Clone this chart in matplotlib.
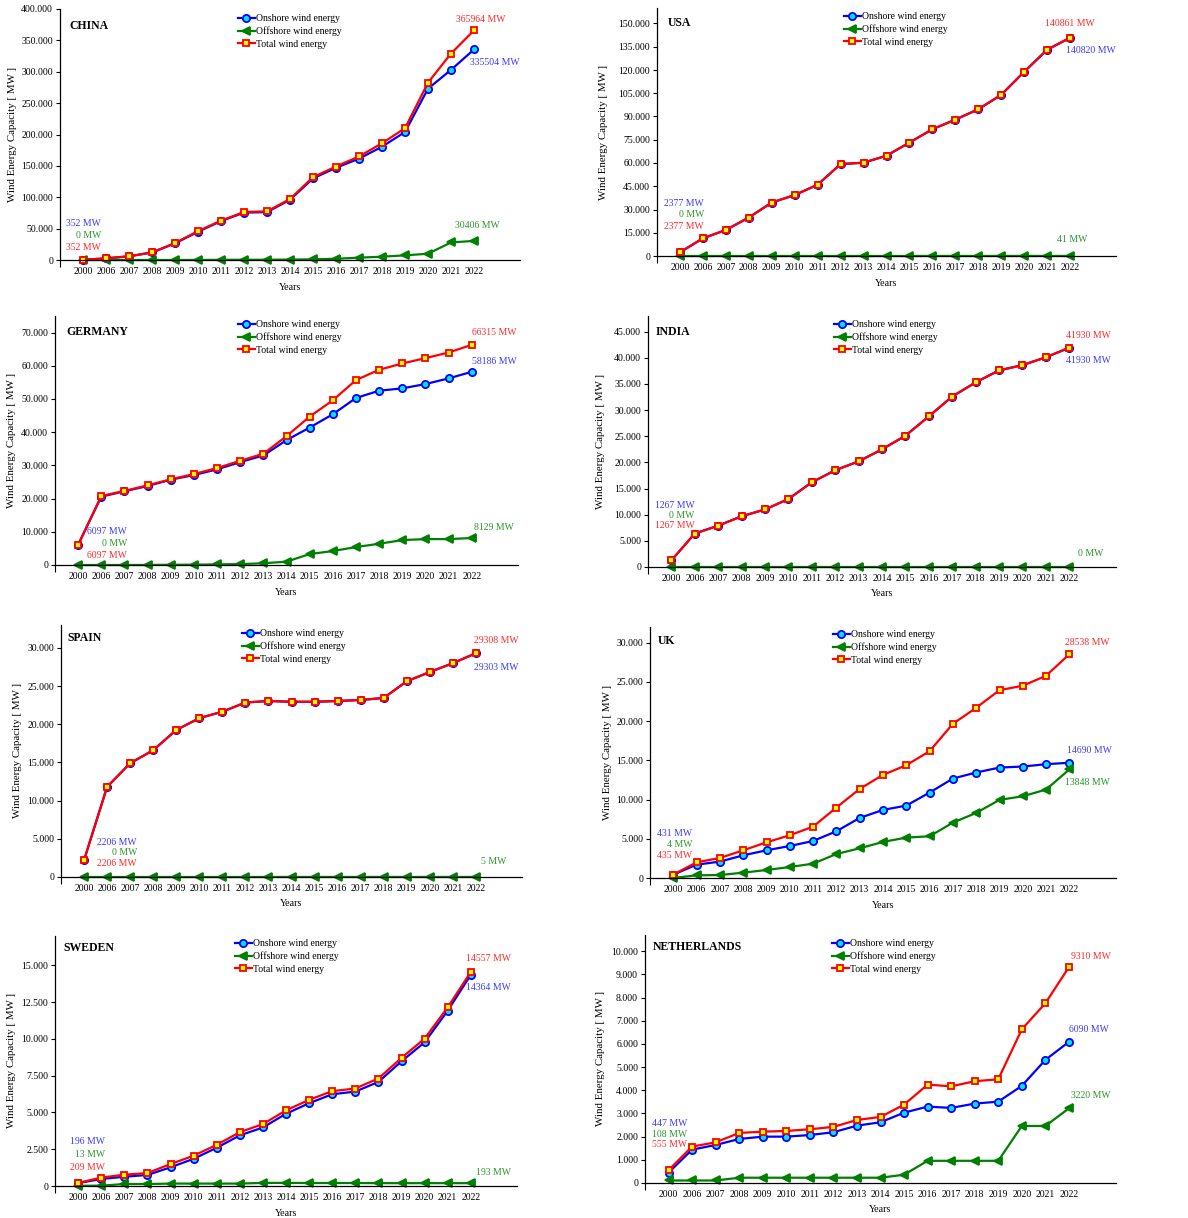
import matplotlib.pyplot as plt
from matplotlib.ticker import FuncFormatter, MultipleLocator

plt.rcParams['font.family'] = ['Liberation Serif', 'DejaVu Serif']

years = ["2000", "2006", "2007", "2008", "2009", "2010", "2011", "2012", "2013",
         "2014", "2015", "2016", "2017", "2018", "2019", "2020", "2021", "2022"]

china_onshore = [352, 2600, 5900, 12000, 26500, 45000, 62000, 75500, 76300, 96000,
                 130000, 147000, 161500, 180600, 204000, 273000, 303000, 335504]
china_offshore = [0, 0, 0, 0, 0, 100, 250, 390, 430, 660,
                  1000, 2000, 3700, 5300, 7400, 10000, 28000, 30406]
china_total = [352, 2600, 5900, 12000, 27000, 46000, 62700, 76500, 77500, 97200,
               132000, 149000, 165000, 186000, 210000, 282600, 329000, 365964]

usa_onshore = [2377, 11400, 16800, 24800, 34500, 39300, 46000, 59300, 60200, 64700,
               73200, 81770, 87970, 94670, 103970, 118858, 133058, 140820]
usa_offshore = [0, 0, 0, 0, 0, 0, 0, 0, 0, 0, 0, 30, 30, 30, 30, 42, 42, 41]
usa_total = [2377, 11400, 16800, 24800, 34500, 39300, 46000, 59300, 60200, 64700,
             73200, 81800, 88000, 94700, 104000, 118900, 133100, 140861]

ger_onshore = [6097, 20600, 22200, 23800, 25700, 27100, 28800, 31000, 33000, 37600,
               41400, 45400, 50300, 52500, 53200, 54500, 56200, 58186]
ger_offshore = [0, 0, 0, 12, 72, 92, 188, 268, 520, 1000,
                3300, 4200, 5400, 6400, 7500, 7800, 7800, 8129]
ger_total = [6097, 20800, 22300, 24000, 25800, 27400, 29200, 31400, 33500, 38800,
             44700, 49600, 55700, 58800, 60700, 62300, 64000, 66315]

ind_onshore = [1267, 6400, 7900, 9700, 11000, 13000, 16200, 18500, 20200, 22500,
               25100, 28800, 32600, 35300, 37600, 38600, 40100, 41930]
ind_offshore = [0, 0, 0, 0, 0, 0, 0, 0, 0, 0, 0, 0, 0, 0, 0, 0, 0, 0]
ind_total = [1267, 6400, 7900, 9700, 11000, 13000, 16200, 18500, 20200, 22500,
             25100, 28800, 32600, 35300, 37600, 38600, 40100, 41930]

esp_onshore = [2206, 11800, 14900, 16600, 19250, 20800, 21650, 22850, 23045, 22945,
               22945, 23045, 23175, 23445, 25625, 26845, 27995, 29303]
esp_offshore = [0, 0, 0, 0, 0, 0, 0, 0, 5, 5, 5, 5, 5, 5, 5, 5, 5, 5]
esp_total = [2206, 11800, 14900, 16600, 19250, 20800, 21650, 22850, 23050, 22950,
             22950, 23050, 23180, 23450, 25630, 26850, 28000, 29308]

uk_onshore = [431, 1700, 2090, 2890, 3530, 4080, 4720, 5960, 7660, 8680,
              9230, 10890, 12680, 13450, 14080, 14210, 14510, 14690]
uk_offshore = [4, 340, 380, 680, 1020, 1400, 1830, 3060, 3790, 4600,
               5150, 5320, 7060, 8300, 9960, 10420, 11280, 13848]
uk_total = [435, 2000, 2550, 3530, 4550, 5450, 6550, 8980, 11360, 13150,
            14380, 16170, 19660, 21700, 23950, 24510, 25790, 28538]

swe_onshore = [196, 475, 630, 750, 1270, 1850, 2600, 3440, 3980, 4910,
               5630, 6240, 6420, 7080, 8480, 9770, 11920, 14364]
swe_offshore = [13, 23, 133, 133, 164, 164, 164, 164, 211, 212,
                202, 202, 202, 193, 193, 193, 193, 193]
swe_total = [209, 570, 770, 880, 1490, 2060, 2800, 3660, 4210, 5140,
             5860, 6450, 6630, 7310, 8710, 10020, 12150, 14557]

nl_onshore = [447, 1440, 1640, 1900, 2000, 2000, 2070, 2190, 2475, 2620,
              3035, 3295, 3240, 3425, 3510, 4190, 5310, 6090]
nl_offshore = [108, 108, 108, 228, 228, 228, 228, 228, 228, 228,
               357, 957, 957, 957, 957, 2460, 2460, 3220]
nl_total = [555, 1570, 1755, 2160, 2215, 2245, 2320, 2420, 2720, 2850,
            3380, 4245, 4170, 4390, 4475, 6630, 7755, 9310]

W, H = 1188, 1218

# box = axes (left, top, right, bottom) in pixels, leg = legend handle start / first row,
# start = label offsets at 2000 (dx, dy for on/off/total), end = offsets at 2022 (on, off, total)
panels = [
    dict(name="CHINA", data=(china_onshore, china_offshore, china_total), ymax=400000, step=50000,
         box=(60, 9, 520, 260), title=(69, 26), leg=(238, 21), ylab=13,
         start=(18, (36, 24, 12)), end=((21, -13), (3, 15), (7, 11))),
    dict(name="USA", data=(usa_onshore, usa_offshore, usa_total), ymax=160000, step=15000,
         box=(657, 8, 1116, 256), title=(668, 23), leg=(844, 19), ylab=603,
         start=(24, (49, 38, 26)), end=((21, -13), (2, 16), (0, 14))),
    dict(name="GERMANY", data=(ger_onshore, ger_offshore, ger_total), ymax=75000, step=10000,
         box=(55, 316, 518, 565), title=(66, 332), leg=(238, 327), ylab=12,
         start=(49, (13, 1, -11)), end=((23, 10), (22, 11), (23, 12))),
    dict(name="INDIA", data=(ind_onshore, ind_offshore, ind_total), ymax=48000, step=5000,
         box=(648, 316, 1116, 567), title=(656, 332), leg=(834, 327), ylab=601,
         start=(23, (55, 45, 35)), end=((19, -13), (21, 13), (19, 12))),
    dict(name="SPAIN", data=(esp_onshore, esp_offshore, esp_total), ymax=33000, step=5000,
         box=(61, 625, 522, 877), title=(67, 638), leg=(242, 636), ylab=18,
         start=(53, (18, 8, -3)), end=((20, -14), (18, 15), (20, 13))),
    dict(name="UK", data=(uk_onshore, uk_offshore, uk_total), ymax=32000, step=5000,
         box=(650, 627, 1116, 878), title=(658, 641), leg=(833, 637), ylab=607,
         start=(19, (41, 30, 19)), end=((20, 12), (18, -13), (18, 12))),
    dict(name="SWEDEN", data=(swe_onshore, swe_offshore, swe_total), ymax=17000, step=2500,
         box=(55, 936, 517, 1186), title=(63, 948), leg=(235, 946), ylab=12,
         start=(27, (41, 28, 15)), end=((18, -13), (23, 11), (18, 13))),
    dict(name="NETHERLANDS", data=(nl_onshore, nl_offshore, nl_total), ymax=10700, step=1000,
         box=(645, 935, 1116, 1183), title=(653, 947), leg=(832, 946), ylab=601,
         start=(19, (47, 36, 26)), end=((20, 12), (22, 13), (22, 11))),
]

series_style = [
    dict(label="Onshore wind energy", color="#0000ff", marker="o", mfc="#00e5ff", mec="#0000ff", ms=5.2),
    dict(label="Offshore wind energy", color="#008000", marker="<", mfc="#008000", mec="#008000", ms=6),
    dict(label="Total wind energy", color="#ff0000", marker="s", mfc="#ffff00", mec="#ff0000", ms=5),
]
text_colors = ["#3a3aff", "#2a962a", "#ff2a2a"]

thousands = FuncFormatter(lambda v, p: f"{int(round(v)):,}".replace(",", "."))

fig = plt.figure(figsize=(W / 100, H / 100), dpi=100)

x = list(range(len(years)))
for p in panels:
    l, t, r, b = p["box"]
    ax = fig.add_axes([l / W, 1 - b / H, (r - l) / W, (b - t) / H])
    for vals, st in zip(p["data"], series_style):
        ax.plot(x, vals, color=st["color"], lw=1.6, marker=st["marker"], ms=st["ms"],
                mfc=st["mfc"], mec=st["mec"], mew=1.3, label=st["label"], clip_on=False)

    ax.set_xlim(-1, 19)
    ax.set_ylim(0, p["ymax"])
    ax.set_xticks(x)
    ax.set_xticklabels(years)
    ax.set_xticks([-1], minor=True)
    ax.tick_params(axis="x", which="major", length=0, pad=5, labelsize=7)
    ax.tick_params(axis="x", which="minor", length=5, width=0.8)
    ax.yaxis.set_major_locator(MultipleLocator(p["step"]))
    ax.yaxis.set_major_formatter(thousands)
    ax.tick_params(axis="y", length=3, width=0.8, pad=2, labelsize=7)
    for s in ("top", "right"):
        ax.spines[s].set_visible(False)
    for s in ("left", "bottom"):
        ax.spines[s].set_linewidth(0.9)

    # labels at the first and last year
    dx, dys = p["start"]
    for dy, col, vals in zip(dys, text_colors, p["data"]):
        ax.annotate(f"{vals[0]} MW", xy=(0, p["data"][2][0]), xytext=(dx, dy),
                    textcoords="offset pixels", ha="right", va="center",
                    color=col, fontsize=7, annotation_clip=False)
    for (ex, ey), col, vals in zip(p["end"], text_colors, p["data"]):
        ax.annotate(f"{vals[-1]} MW", xy=(x[-1], vals[-1]), xytext=(ex, ey),
                    textcoords="offset pixels", ha="center", va="center",
                    color=col, fontsize=7, annotation_clip=False)

    lx, ly = p["leg"]
    ax.legend(loc="upper left", bbox_to_anchor=(lx / W, 1 - (ly - 7) / H),
              bbox_transform=fig.transFigure, frameon=False, fontsize=7,
              handlelength=1.7, handletextpad=0.15, labelspacing=0.35,
              borderpad=0, borderaxespad=0, markerscale=1.0)

    tx, ty = p["title"]
    fig.text(tx / W, 1 - ty / H, p["name"], fontsize=8.5, fontweight="bold",
             ha="left", va="center")
    fig.text(p["ylab"] / W, 1 - (t + b) / 2 / H, "Wind Energy Capacity [ MW ]",
             rotation=90, ha="center", va="center", fontsize=7.8)
    fig.text((l + r) / 2 / W, 1 - (b + 27) / H, "Years", ha="center", va="center", fontsize=7.2)

fig.savefig("out.png", dpi=100)
